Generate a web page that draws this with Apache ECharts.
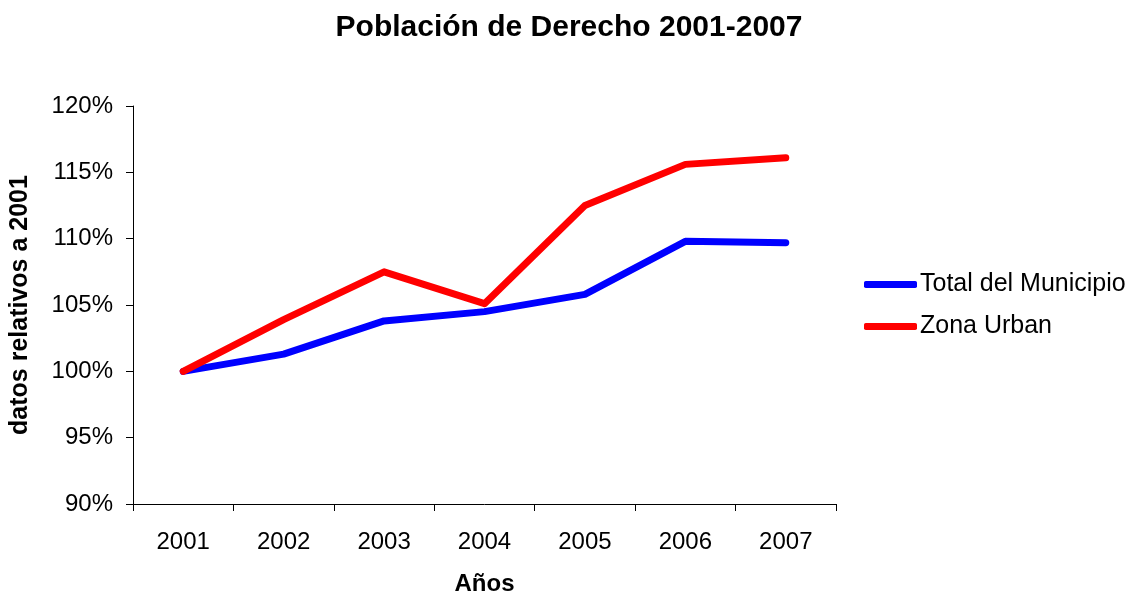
<!DOCTYPE html>
<html>
<head>
  <meta charset="UTF-8"/>
  <title>Población de Derecho 2001-2007</title>
  <script src="https://cdn.jsdelivr.net/npm/echarts@6/dist/echarts.min.js"></script>
  <style>
    html, body { margin: 0; padding: 0; background: #fff; }
    #main { width: 1137px; height: 597px; }
  </style>
</head>
<body>
<div id="main"></div>
<script type="text/javascript">
    // datos
    const years = ['2001', '2002', '2003', '2004', '2005', '2006', '2007'];
    const totalMunicipio = [100, 101.3, 103.8, 104.5, 105.8, 109.8, 109.7];
    const zonaUrban = [100, 103.9, 107.5, 105.1, 112.5, 115.6, 116.1];

    const font = 'Arial, "Liberation Sans", sans-serif';

    let myChart = echarts.init(document.getElementById('main'));
    let option = {
        animation: false,
        backgroundColor: '#fff',
        title: {
            text: 'Población de Derecho 2001-2007',
            left: 564,
            textAlign: 'center',
            top: 8,
            textStyle: {fontFamily: font, fontSize: 30, fontWeight: 'bold', color: '#000'}
        },
        legend: {
            orient: 'vertical',
            left: 864,
            top: 272,
            padding: 0,
            itemWidth: 53,
            itemHeight: 7,
            itemGap: 17,
            icon: 'roundRect',
            textStyle: {fontFamily: font, fontSize: 25, color: '#000', padding: [0, 0, 0, -2]},
            data: ['Total del Municipio', 'Zona Urban']
        },
        grid: {
            left: 133,
            right: 301,
            top: 106,
            bottom: 93,
            outerBoundsMode: 'none'
        },
        xAxis: {
            type: 'category',
            data: years,
            boundaryGap: true,
            name: 'Años',
            nameLocation: 'middle',
            nameGap: 68,
            nameTextStyle: {fontFamily: font, fontSize: 24, fontWeight: 'bold', color: '#000'},
            axisLine: {lineStyle: {color: '#000', width: 1}},
            axisTick: {show: true, length: 7, lineStyle: {color: '#000'}},
            axisLabel: {fontFamily: font, fontSize: 24, color: '#000', margin: 26}
        },
        yAxis: {
            type: 'value',
            min: 90,
            max: 120,
            interval: 5,
            name: 'datos relativos a 2001',
            nameLocation: 'middle',
            nameGap: 100,
            nameTextStyle: {fontFamily: font, fontSize: 25, fontWeight: 'bold', color: '#000'},
            axisLine: {show: true, lineStyle: {color: '#000', width: 1}},
            axisTick: {show: true, length: 7, lineStyle: {color: '#000'}},
            splitLine: {show: false},
            axisLabel: {
                fontFamily: font, fontSize: 24, color: '#000', margin: 20,
                formatter: '{value}%'
            }
        },
        series: [
            {
                name: 'Total del Municipio',
                type: 'line',
                data: totalMunicipio,
                symbol: 'none',
                color: '#0000ff',
                lineStyle: {width: 7, color: '#0000ff', cap: 'round', join: 'round'}
            },
            {
                name: 'Zona Urban',
                type: 'line',
                data: zonaUrban,
                symbol: 'none',
                color: '#ff0000',
                lineStyle: {width: 7, color: '#ff0000', cap: 'round', join: 'round'}
            }
        ]
    };
    myChart.setOption(option);
</script>
</body>
</html>
